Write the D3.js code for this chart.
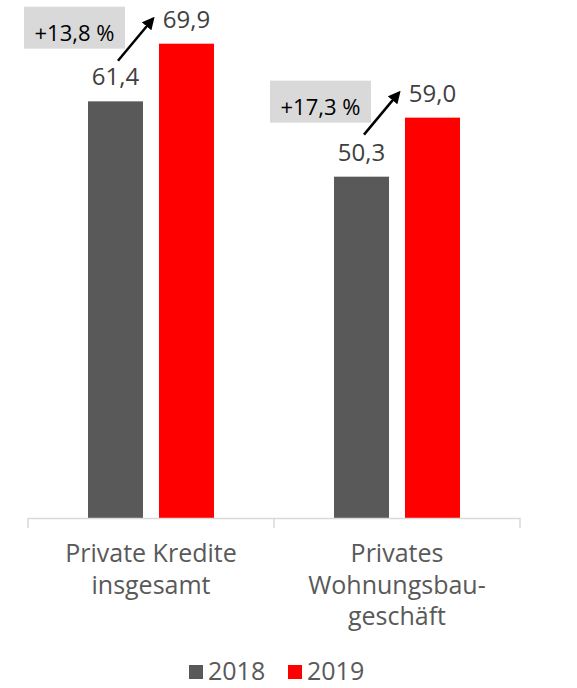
<!DOCTYPE html>
<html>
<head>
<meta charset="utf-8">
<script src="https://cdn.jsdelivr.net/npm/d3@7"></script>
<style>
  body { margin: 0; background: #fff; }
  svg { font-family: "Open Sans", sans-serif; }
</style>
</head>
<body>
<script>
  // data
  const categories = ["Private Kredite insgesamt", "Privates Wohnungsbaugeschäft"];
  const categoryLines = [["Private Kredite", "insgesamt"], ["Privates", "Wohnungsbau-", "geschäft"]];
  const years = ["2018", "2019"];
  const values2018 = [61.4, 50.3];
  const values2019 = [69.9, 59.0];
  const changeLabels = ["+13,8 %", "+17,3 %"];
  const colors = { "2018": "#595959", "2019": "#ff0000" };

  const width = 577, height = 688;
  const fmt = (v) => d3.format(".1f")(v).replace(".", ",");

  const svg = d3.select("body").append("svg")
    .attr("width", width)
    .attr("height", height);

  // scales
  const x = d3.scaleBand().domain(categories).range([28, 520]);
  const xInner = d3.scaleBand().domain(years).range([0, x.bandwidth()])
    .paddingInner(0.225).paddingOuter(0.845);
  const y = d3.scaleLinear().domain([0, 70]).range([518, 43]);

  const rows = categories.map((c, i) => ({
    cat: c,
    vals: [{ year: "2018", v: values2018[i] }, { year: "2019", v: values2019[i] }]
  }));

  // bars
  const groups = svg.selectAll(".cat")
    .data(rows)
    .enter().append("g")
    .attr("transform", (d) => "translate(" + x(d.cat) + ",0)");

  groups.selectAll("rect")
    .data((d) => d.vals)
    .enter().append("rect")
    .attr("x", (d) => xInner(d.year))
    .attr("y", (d) => y(d.v))
    .attr("width", xInner.bandwidth())
    .attr("height", (d) => y(0) - y(d.v))
    .attr("fill", (d) => colors[d.year]);

  groups.selectAll(".val")
    .data((d) => d.vals)
    .enter().append("text")
    .attr("class", "val")
    .attr("x", (d) => xInner(d.year) + xInner.bandwidth() / 2)
    .attr("y", (d) => y(d.v) - 16)
    .attr("text-anchor", "middle")
    .style("font-size", "24px")
    .style("fill", "#404040")
    .text((d) => fmt(d.v));

  // axis
  const xAxis = d3.axisBottom(x).tickSize(0).tickFormat("");
  const axisG = svg.append("g")
    .attr("transform", "translate(0,518)")
    .call(xAxis);
  axisG.select(".domain").attr("stroke", "#d9d9d9").attr("stroke-width", 1.5);
  const tickXs = categories.map((c) => x(c)).concat([x.range()[1]]);
  axisG.selectAll(".sep")
    .data(tickXs)
    .enter().append("line")
    .attr("x1", (d) => d).attr("x2", (d) => d)
    .attr("y1", 0).attr("y2", 10)
    .attr("stroke", "#d9d9d9").attr("stroke-width", 1.5);

  // category labels
  svg.selectAll(".catlabel")
    .data(categories)
    .enter().append("text")
    .attr("class", "catlabel")
    .attr("x", (d) => x(d) + x.bandwidth() / 2)
    .attr("y", 562)
    .attr("text-anchor", "middle")
    .style("font-size", "25px")
    .style("fill", "#595959")
    .selectAll("tspan")
    .data((d, i) => categoryLines[i])
    .enter().append("tspan")
    .attr("x", function() { return this.parentNode.getAttribute("x"); })
    .attr("dy", (d, i) => i === 0 ? 0 : 31.5)
    .text((d) => d);

  // change annotations
  svg.append("defs").append("marker")
    .attr("id", "arrow")
    .attr("viewBox", "0 0 10 10")
    .attr("refX", 8).attr("refY", 5)
    .attr("markerWidth", 5).attr("markerHeight", 5)
    .attr("orient", "auto")
    .append("path")
    .attr("d", "M0,0 L10,5 L0,10 z")
    .attr("fill", "#000");

  rows.forEach((r, i) => {
    const redX = x(r.cat) + xInner("2019");
    const redY = y(values2019[i]);
    const boxW = 101, boxH = 42;
    const boxX = redX - 34 - boxW, boxY = redY - 37;
    svg.append("rect")
      .attr("x", boxX).attr("y", boxY)
      .attr("width", boxW).attr("height", boxH)
      .attr("fill", "#d9d9d9");
    svg.append("text")
      .attr("x", boxX + boxW / 2)
      .attr("y", boxY + 34)
      .attr("text-anchor", "middle")
      .style("font-size", "22px")
      .style("fill", "#000")
      .text(changeLabels[i]);
    svg.append("line")
      .attr("x1", redX - 41).attr("y1", redY + 17)
      .attr("x2", redX - 6).attr("y2", redY - 25)
      .attr("stroke", "#000").attr("stroke-width", 2.5)
      .attr("marker-end", "url(#arrow)");
  });

  // legend
  const legend = svg.append("g").attr("transform", "translate(189,665)");
  const legendItems = legend.selectAll("g")
    .data(years)
    .enter().append("g")
    .attr("transform", (d, i) => "translate(" + (i * 99) + ",0)");
  legendItems.append("rect")
    .attr("width", 14).attr("height", 14)
    .attr("fill", (d) => colors[d]);
  legendItems.append("text")
    .attr("x", 19).attr("y", 15)
    .style("font-size", "25px")
    .style("fill", "#595959")
    .text((d) => d);
</script>
</body>
</html>
